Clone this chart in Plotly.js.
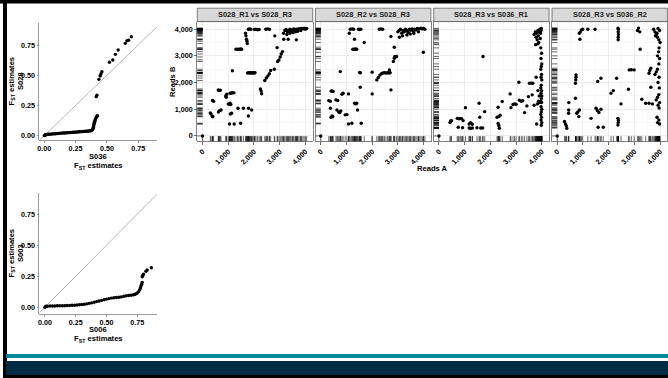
<!DOCTYPE html>
<html><head><meta charset="utf-8">
<script src="https://cdn.plot.ly/plotly-3.0.1.min.js"></script>
<style>html,body{margin:0;padding:0;background:#fff;}#chart{width:668px;height:378px;}</style>
</head><body><div id="chart"></div>
<script>
// ---------------- DATA ----------------
const qqTicks = [0, 0.25, 0.5, 0.75];
const facetTicks = [0, 1000, 2000, 3000, 4000];
const refLine = [-1, 2];

// QQ panel 1: S036 (x) vs S028 (y)
const qq1X = [0,0.004,0.008,0.012,0.02,0.03,0.04,0.05,0.06,0.07,0.08,0.09,0.10,0.11,0.12,0.13,0.14,0.15,0.16,0.17,0.18,0.19,0.20,0.21,0.22,0.23,0.24,0.25,0.26,0.27,0.28,0.29,0.30,0.31,0.32,0.33,0.34,0.35,0.36,0.37,0.375,0.38,0.385,
  0.39,0.392,0.394,0.396,0.398,0.40,0.403,0.406,0.41,0.415,0.42,0.425,
  0.415,0.42,0.436,0.446,0.452,0.46,0.52,0.547,0.568,0.59,0.647,0.66,0.673,0.695];
const qq1Y = [0,0.003,0.006,0.008,0.010,0.011,0.012,0.013,0.014,0.015,0.016,0.016,0.017,0.018,0.019,0.020,0.021,0.022,0.022,0.023,0.024,0.025,0.025,0.026,0.027,0.028,0.029,0.029,0.030,0.031,0.032,0.033,0.033,0.034,0.035,0.036,0.037,0.038,0.039,0.040,0.042,0.045,0.050,
  0.06,0.07,0.08,0.09,0.10,0.11,0.12,0.13,0.14,0.15,0.16,0.165,
  0.323,0.335,0.466,0.494,0.51,0.529,0.607,0.626,0.673,0.709,0.764,0.786,0.79,0.819];

// QQ panel 2: S006 (x) vs S003 (y)
const qq2X = [0,0.005,0.01,0.02,0.04,0.06,0.08,0.10,0.12,0.14,0.16,0.18,0.20,0.22,0.24,0.26,0.28,0.30,0.32,0.34,0.36,0.38,0.40,0.42,0.44,0.46,0.48,0.50,0.52,0.54,0.56,0.58,0.60,0.62,0.64,
  0.66,0.68,0.70,0.72,0.73,0.74,0.75,0.76,0.77,0.775,0.78,0.785,0.79,
  0.79,0.795,0.80,0.82,0.83,0.864];
const qq2Y = [0,0.004,0.007,0.008,0.009,0.010,0.010,0.011,0.011,0.012,0.012,0.013,0.014,0.015,0.016,0.017,0.019,0.021,0.024,0.027,0.031,0.035,0.040,0.045,0.050,0.055,0.060,0.065,0.069,0.073,0.076,0.078,0.080,0.083,0.088,
  0.092,0.094,0.096,0.100,0.103,0.108,0.115,0.125,0.140,0.155,0.170,0.185,0.200,
  0.245,0.255,0.265,0.290,0.300,0.318];

const panelTitles = ["S028_R1 vs S028_R3", "S028_R2 vs S028_R3", "S028_R3 vs S036_R1", "S028_R3 vs S036_R2"];

// Facet 1: S028_R1 vs S028_R3
const f1X = [0,300,330,380,400,390,430,610,650,690,620,660,720,900,920,940,1000,1040,1070,1100,1070,1120,1160,1220,1080,1130,1050,1230,1160,
  1300,1360,1420,1480,1520,1380,1480,1590,1670,1690,1710,1730,1740,1750,1800,1840,1880,1920,1960,2000,2040,1790,1780,1910,
  1780,1830,1880,2020,2080,2140,2200,2250,2280,2300,2460,2520,2600,2420,2480,2540,2600,2650,2790,2810,2900,2920,2970,3020,3060,3110,
  3150,3200,3250,3300,3350,3400,3450,3500,3550,3600,3650,3700,3750,3800,3850,3900,3950,4000,4050,3620,3700,3820,3400,3280,3520,3160,3330,3650];
const f1Y = [0,860,820,740,720,1330,1300,1720,1700,1710,900,950,975,1500,1450,1560,1200,1190,1230,1180,1600,1610,1620,1615,820,850,450,450,2440,
  3250,3250,3250,3260,3250,1040,475,1040,3850,3750,3620,3550,3460,2360,2370,2360,2370,2360,2370,2360,2370,1040,750,975,
  4000,4010,4000,3990,4000,3980,3990,1760,1680,1580,4000,4010,4000,2075,2170,2250,2330,2450,2500,3750,3310,2790,2850,2960,3070,3160,
  3850,3950,3990,3900,3950,4000,3920,3980,4010,3960,4000,3990,4020,4000,4030,4010,4040,4000,4030,3900,3920,3950,3850,3800,3870,3625,3625,3600];

// Facet 2: S028_R2 vs S028_R3
const f2X = [0,310,370,400,440,480,400,440,470,375,590,660,630,700,740,780,760,825,870,950,1020,1080,1110,1150,1220,1280,1080,1210,
  1250,1300,1350,1400,1315,1315,1400,1360,1430,1470,1510,1560,1510,1540,1535,1575,1690,2000,2000,2280,2340,2410,
  2180,2240,2300,2360,2420,2480,2540,2600,2650,2700,2670,2730,2730,2825,2860,2880,2860,2950,
  3000,3050,3100,3150,3200,3250,3300,3350,3400,3450,3500,3550,3600,3650,3700,3750,3800,3850,3900,3950,4000,4050,3060,3180,3350,3480,3620,3800,3990];
const f2Y = [0,1325,1300,1680,1690,1670,700,750,720,1040,1350,1330,975,900,880,940,2410,1560,1600,790,800,1575,3850,4000,4010,4000,450,475,
  3250,3250,3260,3250,3625,1225,1225,1200,975,4000,3990,4000,2375,2370,1825,475,3500,2390,1575,4000,4010,4000,
  2100,2190,2280,2330,2360,2370,2360,2370,2360,2370,2475,1725,3725,2790,2910,2980,3325,2975,
  3900,3950,4000,3850,3950,3900,4000,3950,3880,4000,3960,4010,3930,4000,3970,4030,4000,4020,4040,4010,4030,4000,3700,3750,3780,3820,3850,3900,3135];

// Facet 3: S028_R3 vs S036_R1
const f3X = [0,430,460,490,710,780,830,880,750,915,940,1030,1175,1230,1300,1175,1230,1300,1480,1625,1700,1560,1590,1715,1780,
  2300,2260,2330,2380,2300,2330,2350,2460,2770,2800,2880,2940,3000,3110,3130,3200,3260,3330,3420,3480,3520,3580,3650,3625,3700,3780,3800,
  3700,3750,3780,3800,3820,3850,3870,3880,3900,3920,3940,3950,3970,3980,3760,3850,
  3960,3990,3970,4000,3980,3960,3990,3970,4000,3980,3960,3990,3970,4000,3980,3960,3990,3970,4000,3980,3960,3990,3970,4000,3980,
  3850,3900,3870,3920,3830];
const f3Y = [0,500,560,575,660,640,650,650,325,310,575,1060,450,500,440,300,290,300,310,300,300,1225,700,2975,910,
  1075,700,725,780,470,380,290,1290,1575,1060,1180,1200,1190,2010,1340,1300,1320,875,1125,1475,1975,1980,1975,1540,1150,2200,450,
  3800,3900,3700,3850,3600,3950,3750,3500,3900,4000,3650,3850,3950,4030,3420,3450,
  3300,3100,2900,2700,2600,2500,2300,2200,2100,1900,1800,1700,1600,1500,1400,1300,1250,1100,1000,900,800,700,600,500,400,
  1700,1500,1300,1250,1200];

// Facet 4: S028_R3 vs S036_R2
const f4X = [0,280,320,350,370,450,440,445,710,720,730,730,710,760,800,860,840,860,900,940,990,880,1190,1470,1315,1510,1560,1620,1700,1575,1700,1590,1790,
  2090,2180,2310,2370,2370,2380,2370,2380,2360,2360,2370,2380,2360,2480,2770,2800,2880,2990,3120,3160,3210,3225,3290,3440,3570,3570,3600,3640,3640,3700,
  3750,3800,3850,3900,3950,4000,3980,3920,3880,3820,3960,3940,3900,3980,3950,3900,3850,3800,3960,3920,3970,3950,3900,3850,3980,3920,3960,3880,3950,3900,3980];
const f4Y = [0,540,450,380,290,1250,850,975,1975,2100,2200,2290,1410,850,900,975,725,3850,3900,3975,4000,3625,4000,4000,660,1040,950,880,1000,2040,2160,325,325,
  1600,1700,2160,3600,3700,3800,3900,4000,4040,410,500,580,660,1200,1750,2475,2480,2475,3950,4040,3900,3250,1375,1225,1225,2350,2450,2540,1825,1200,
  4000,3900,3800,3700,3600,3500,3950,4030,3850,3750,3300,3150,3000,2900,2700,2500,2400,2300,2200,2000,1800,1550,1450,1350,1250,1150,1050,700,600,500,450];

const facetX = [f1X, f2X, f3X, f4X];
const facetY = [f1Y, f2Y, f3Y, f4Y];

// ---------------- LAYOUT / STYLE ----------------
const W = 668, H = 378;
const FONT = '"Liberation Sans", Arial, sans-serif';
const px = v => v / W;
const py = v => 1 - v / H;

const qqXRange = [-0.040, 0.900];
const qq1YRange = [-0.036, 0.935];
const qq2XRange = [-0.046, 0.910];
const qq2YRange = [-0.055, 0.918];
const fRange = [-204, 4284];

const qqDomX = [px(39.3), px(157)];
const qq1DomY = [py(140), py(22.7)];
const qq2DomY = [py(314), py(193.3)];
const fLeft = [197.3, 315.5, 433.7, 552.0];
const fWidth = 115.4;
const fDomY = [py(141.4), py(21.6)];

const tickFont = {family: FONT, size: 7.2, color: '#000000', weight: 'bold'};

function qqAxis(domain, range, anchor) {
  return {domain, range, anchor, tickvals: qqTicks, tickformat: '.2f', ticks: 'outside', ticklen: 2,
    tickcolor: '#808080', tickwidth: 0.8, showline: true, linecolor: '#808080', linewidth: 0.8,
    showgrid: false, zeroline: false, tickfont: tickFont, fixedrange: true};
}
function fAxis(domain, anchor, isX, showLabels) {
  const a = {domain, range: fRange, anchor, tickvals: facetTicks, tickformat: ',', showgrid: true,
    gridcolor: '#e6e6e6', gridwidth: 0.7, zeroline: false, showline: true, mirror: true,
    linecolor: '#4d4d4d', linewidth: 0.7,
    minor: {tickvals: [500, 1500, 2500, 3500], showgrid: true, gridcolor: '#f3f3f3', gridwidth: 0.5, ticks: ''},
    ticks: showLabels ? 'outside' : '', ticklen: 2.5, tickcolor: '#333', tickwidth: 0.7,
    showticklabels: showLabels, tickfont: tickFont, fixedrange: true};
  if (isX) { a.tickangle = -45; }
  return a;
}

const layout = {
  width: W, height: H, margin: {l: 0, r: 0, t: 0, b: 0},
  paper_bgcolor: '#ffffff', plot_bgcolor: '#ffffff', showlegend: false,
  font: {family: FONT},
  xaxis: qqAxis(qqDomX, qqXRange, 'y'),
  yaxis: qqAxis(qq1DomY, qq1YRange, 'x'),
  xaxis2: qqAxis(qqDomX, qq2XRange, 'y2'),
  yaxis2: qqAxis(qq2DomY, qq2YRange, 'x2'),
  shapes: [], annotations: []
};

const traces = [];
const mk = {color: '#000', size: 3.4};
// QQ panels
traces.push({x: refLine, y: refLine, xaxis: 'x', yaxis: 'y', mode: 'lines', line: {color: '#a6a6a6', width: 0.8}, hoverinfo: 'skip'});
traces.push({x: qq1X, y: qq1Y, xaxis: 'x', yaxis: 'y', mode: 'markers', marker: mk});
traces.push({x: refLine, y: refLine, xaxis: 'x2', yaxis: 'y2', mode: 'lines', line: {color: '#a6a6a6', width: 0.8}, hoverinfo: 'skip'});
traces.push({x: qq2X, y: qq2Y, xaxis: 'x2', yaxis: 'y2', mode: 'markers', marker: mk});

// Facet panels
for (let i = 0; i < 4; i++) {
  const n = i + 3;
  const dom = [px(fLeft[i]), px(fLeft[i] + fWidth)];
  layout['xaxis' + n] = fAxis(dom, 'y' + n, true, true);
  layout['yaxis' + n] = fAxis(fDomY, 'x' + n, false, i === 0);
  const xs = facetX[i], ys = facetY[i];
  // rugs
  traces.push({x: xs.map(() => fRange[0]), y: ys, xaxis: 'x' + n, yaxis: 'y' + n, mode: 'markers',
    marker: {symbol: 'line-ew', size: 7.5, color: '#000', line: {color: '#000', width: 0.6}}, hoverinfo: 'skip'});
  traces.push({x: xs, y: ys.map(() => fRange[0]), xaxis: 'x' + n, yaxis: 'y' + n, mode: 'markers',
    marker: {symbol: 'line-ns', size: 7.5, color: '#000', line: {color: '#000', width: 0.6}}, hoverinfo: 'skip'});
  traces.push({x: xs, y: ys, xaxis: 'x' + n, yaxis: 'y' + n, mode: 'markers', marker: mk});
  // strip
  layout.shapes.push({type: 'rect', xref: 'paper', yref: 'paper', x0: dom[0], x1: dom[1], y0: py(21.6), y1: py(8.2),
    fillcolor: '#d9d9d9', line: {color: '#4d4d4d', width: 0.7}, layer: 'above'});
  layout.annotations.push({xref: 'paper', yref: 'paper', x: (dom[0] + dom[1]) / 2, y: py(15), text: panelTitles[i],
    showarrow: false, xanchor: 'center', yanchor: 'middle', font: {family: FONT, size: 7.4, color: '#1a1a1a', weight: 'bold'}});
}

// Axis titles
const titleFont = {family: FONT, size: 7.6, color: '#000', weight: 'bold'};
function ann(x, y, text, angle) {
  layout.annotations.push({xref: 'paper', yref: 'paper', x: px(x), y: py(y), text, showarrow: false,
    xanchor: 'center', yanchor: 'middle', textangle: angle || 0, font: titleFont});
}
ann(98, 156.5, 'S036');
ann(98, 166, 'F<sub>ST</sub> estimates');
ann(11.5, 81, 'F<sub>ST</sub> estimates', -90);
ann(20, 81, 'S028', -90);
ann(98, 329.5, 'S006');
ann(98, 339, 'F<sub>ST</sub> estimates');
ann(11.5, 253, 'F<sub>ST</sub> estimates', -90);
ann(20, 253, 'S003', -90);
ann(172, 81, 'Reads B', -90);
ann(432, 168, 'Reads A');

// Slide frame and footer bands
const rect = (x0, x1, y0, y1, color) => layout.shapes.push({type: 'rect', xref: 'paper', yref: 'paper',
  x0: px(x0), x1: px(x1), y0: py(y1), y1: py(y0), fillcolor: color, line: {width: 0}, layer: 'above'});
rect(0, 668, 0, 3.5, '#000000');
rect(3, 7, 0, 378, '#000000');
rect(3, 668, 375, 378, '#000000');
rect(6, 668, 354, 358, '#00879a');
rect(6, 668, 361, 375, '#002b42');

Plotly.newPlot('chart', traces, layout, {displayModeBar: false, staticPlot: true});
</script>
</body></html>
